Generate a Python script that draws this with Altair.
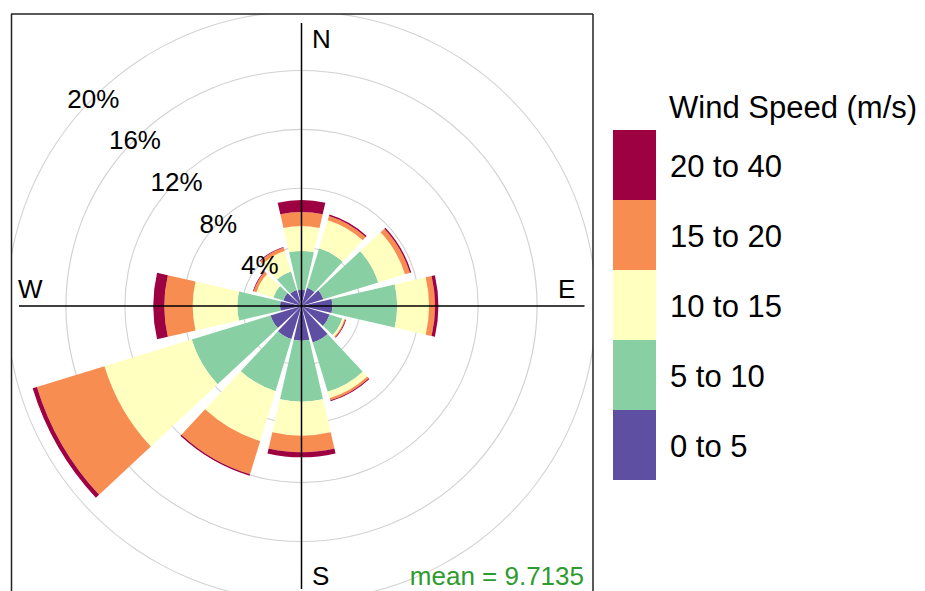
import math

import altair as alt
import pandas as pd

# ---- data -----------------------------------------------------------------
directions = [0, 30, 60, 90, 120, 150, 180, 210, 240, 270, 300, 330]
speed_bins = ["0 to 5", "5 to 10", "10 to 15", "15 to 20", "20 to 40"]
bin_colors = ["#5E4FA2", "#88CFA4", "#FFFFBF", "#F88D52", "#9E0142"]

# frequency (% of all hours) of each speed class in each 30-degree sector
pct_0_5 = [1.10, 1.30, 1.56, 2.10, 2.00, 2.60, 2.36, 2.35, 2.20, 1.46, 1.30, 1.13]
pct_5_10 = [2.64, 2.80, 3.89, 4.40, 0.90, 3.50, 4.14, 3.70, 5.60, 2.90, 0.70, 1.32]
pct_10_15 = [1.70, 2.00, 1.90, 2.16, 0.15, 0.45, 2.31, 3.55, 6.20, 3.03, 1.20, 1.45]
pct_15_20 = [0.95, 0.30, 0.35, 0.41, 0.07, 0.15, 1.13, 2.36, 4.80, 1.93, 0.20, 0.25]
pct_20_40 = [0.81, 0.10, 0.10, 0.23, 0.05, 0.07, 0.34, 0.10, 0.30, 0.75, 0.05, 0.05]

ring_pcts = [4, 8, 12, 16, 20]
ring_labels = ["4%", "8%", "12%", "16%", "20%"]
compass = ["N", "E", "S", "W"]
mean_speed = 9.7135

# ---- layout / style -------------------------------------------------------
FONT = "Liberation Sans"
W, H = 582, 577            # framed panel
CX, CY = 290.5, 292        # centre of the rose inside the panel
PX_PER_PCT = 14.72
RING_HALF = 0.55 / PX_PER_PCT   # half the grid-circle line width, in % units
HALF_WIDTH = 13            # half angular width of a sector, degrees
LABEL_ANGLE = 315          # where the percentage labels sit

per_bin = [pct_0_5, pct_5_10, pct_10_15, pct_15_20, pct_20_40]
rows = []
for k, (name, vals) in enumerate(zip(speed_bins, per_bin)):
    for d, v in zip(directions, vals):
        rows.append({"direction": d, "speed": name, "order": k, "pct": v})
rose_df = pd.DataFrame(rows)

ring_df = pd.DataFrame({"ring": ring_pcts, "label": ring_labels})
legend_df = pd.DataFrame({"speed": speed_bins})
one_row = pd.DataFrame({"k": [0]})

theta_scale = alt.Scale(domain=[0, 360], range=[0, 2 * math.pi])
r_scale = alt.Scale(type="linear", domain=[0, 20], range=[0, 20 * PX_PER_PCT],
                    zero=True, nice=False)
color_scale = alt.Scale(domain=speed_bins, range=bin_colors)

# grid circles, drawn as thin full annuli
rings = alt.Chart(ring_df).transform_calculate(
    r_out=f"datum.ring + {RING_HALF}",
    r_in=f"datum.ring - {RING_HALF}",
    a0="0", a1="360",
).mark_arc(fill="#d2d2d2", strokeWidth=0, clip=True).encode(
    x=alt.value(CX), y=alt.value(CY),
    theta=alt.Theta("a0:Q", scale=theta_scale, stack=None),
    theta2="a1:Q",
    radius=alt.Radius("r_out:Q", scale=r_scale, stack=None),
    radius2="r_in:Q",
)

# stacked sectors
rose = alt.Chart(rose_df).transform_window(
    cum_end="sum(pct)", groupby=["direction"],
    sort=[alt.SortField("order")], frame=[None, 0],
).transform_calculate(
    cum_start="datum.cum_end - datum.pct",
    a0=f"datum.direction - {HALF_WIDTH}",
    a1=f"datum.direction + {HALF_WIDTH}",
).mark_arc(strokeWidth=0).encode(
    x=alt.value(CX), y=alt.value(CY),
    theta=alt.Theta("a0:Q", scale=theta_scale, stack=None),
    theta2="a1:Q",
    radius=alt.Radius("cum_end:Q", scale=r_scale, stack=None),
    radius2="cum_start:Q",
    color=alt.Color("speed:N", scale=color_scale, legend=None),
)

# percentage labels on the circles
ring_text = alt.Chart(ring_df).transform_calculate(
    angle=str(LABEL_ANGLE)
).mark_text(
    font=FONT, fontSize=26, color="#000000", align="center", baseline="middle", dy=2
).encode(
    x=alt.value(CX), y=alt.value(CY),
    theta=alt.Theta("angle:Q", scale=theta_scale),
    radius=alt.Radius("ring:Q", scale=r_scale),
    text="label:N",
)

# cross-hair axes
h_axis = alt.Chart(one_row).mark_rule(color="#000000", strokeWidth=1.5).encode(
    x=alt.value(8), x2=alt.value(573.5), y=alt.value(CY))
v_axis = alt.Chart(one_row).mark_rule(color="#000000", strokeWidth=1.5).encode(
    x=alt.value(CX), y=alt.value(9), y2=alt.value(575))

# panel frame (left, top, right)
frame_l = alt.Chart(one_row).mark_rule(color="#222222", strokeWidth=1.5).encode(
    x=alt.value(0.5), y=alt.value(0), y2=alt.value(H))
frame_t = alt.Chart(one_row).mark_rule(color="#222222", strokeWidth=1.5).encode(
    x=alt.value(0), x2=alt.value(W), y=alt.value(0))
frame_r = alt.Chart(one_row).mark_rule(color="#222222", strokeWidth=1.5).encode(
    x=alt.value(W), y=alt.value(0), y2=alt.value(H))


def label(txt, x, y, **kw):
    return alt.Chart(one_row).mark_text(
        text=txt, font=FONT, fontSize=26, align="left", baseline="alphabetic",
        color="#000000", **kw
    ).encode(x=alt.value(x), y=alt.value(y))


n_lab = label(compass[0], 301, 34)
e_lab = label(compass[1], 547, 284)
s_lab = label(compass[2], 301, 571)
w_lab = label(compass[3], 7, 284)
mean_lab = alt.Chart(one_row).mark_text(
    text=f"mean = {mean_speed}", font=FONT, fontSize=26, align="right",
    baseline="alphabetic", color="#2E9B2E"
).encode(x=alt.value(573), y=alt.value(571))

# colour key
key_y = alt.Y("speed:N", sort=speed_bins[::-1], axis=None,
              scale=alt.Scale(domain=speed_bins[::-1], range=[116, 466],
                              paddingInner=0, paddingOuter=0))
key_boxes = alt.Chart(legend_df).mark_rect().encode(
    x=alt.value(602), x2=alt.value(645), y=key_y,
    color=alt.Color("speed:N", scale=color_scale, legend=None),
)
key_text = alt.Chart(legend_df).mark_text(
    font=FONT, fontSize=31, align="left", baseline="middle", dy=3, color="#000000"
).encode(x=alt.value(659), y=key_y, text="speed:N")
key_title = alt.Chart(one_row).mark_text(
    text="Wind Speed (m/s)", font=FONT, fontSize=31, align="left",
    baseline="alphabetic", color="#000000"
).encode(x=alt.value(658), y=alt.value(104))

chart = alt.layer(
    rings, rose, h_axis, v_axis, ring_text, frame_l, frame_t, frame_r,
    n_lab, e_lab, s_lab, w_lab, mean_lab, key_boxes, key_text, key_title,
).properties(
    width=W, height=H,
    padding={"left": 11, "top": 14, "right": 332, "bottom": 0},
    autosize=alt.AutoSizeParams(type="none"),
    background="#ffffff",
).configure_view(stroke=None)

chart.save("out.html", embed_options={"renderer": "svg", "actions": False})
